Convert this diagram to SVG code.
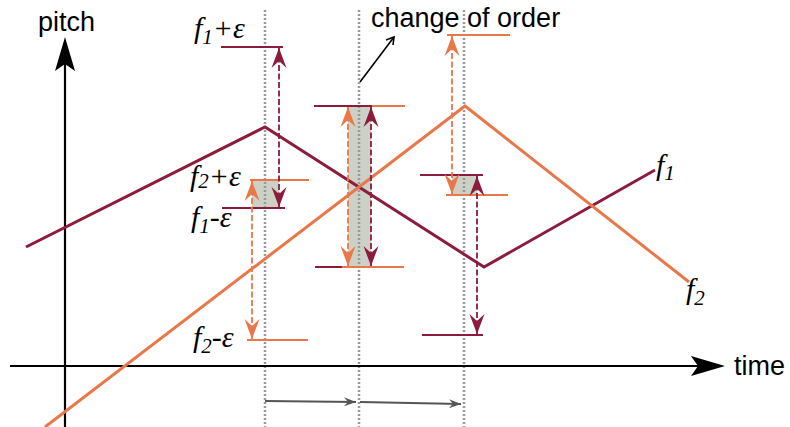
<svg xmlns="http://www.w3.org/2000/svg" width="790" height="427" viewBox="0 0 790 427">
<style>
.axis{stroke:#000;stroke-width:2.2;fill:none}
.dot{stroke:#999;stroke-width:2.5;stroke-dasharray:2 2;fill:none}
.r{stroke:#8B1C3C;fill:none}
.o{stroke:#E8784A;fill:none}
.curve{stroke-width:3}
.tick{stroke-width:2}
.darr{stroke-width:1.8;stroke-dasharray:6 2.5}
.shade{fill:#CDD1C5}
.sans{font-family:"Liberation Sans",Arial,sans-serif;font-size:27px;fill:#000}
.lab{font-family:"Liberation Serif","Times New Roman",serif;font-style:italic;font-size:30px;fill:#000}
.sub{font-size:21px}
</style>
<defs>
<marker id="hr" markerUnits="userSpaceOnUse" markerWidth="22" markerHeight="18" viewBox="-21 -9 22 18" refX="0" refY="0" orient="auto-start-reverse">
<path d="M0,0 L-20,-7.5 L-13,0 L-20,7.5 Z" fill="#8B1C3C"/>
</marker>
<marker id="ho" markerUnits="userSpaceOnUse" markerWidth="22" markerHeight="18" viewBox="-21 -9 22 18" refX="0" refY="0" orient="auto-start-reverse">
<path d="M0,0 L-20,-7.5 L-13,0 L-20,7.5 Z" fill="#E8784A"/>
</marker>
<marker id="hg" markerUnits="userSpaceOnUse" markerWidth="14" markerHeight="10" viewBox="-13 -5 14 10" refX="0" refY="0" orient="auto">
<path d="M0,0 L-12,-4.5 L-8,0 L-12,4.5 Z" fill="#555"/>
</marker>
</defs>

<g id="shading">
<rect class="shade" x="252" y="180" width="27" height="28"/>
<rect class="shade" x="348" y="106" width="23" height="161"/>
<rect class="shade" x="452" y="175" width="25" height="20"/>
</g>

<g id="guides">
<line class="dot" x1="265" y1="10" x2="265" y2="427"/>
<line class="dot" x1="359" y1="10" x2="359" y2="427"/>
<line class="dot" x1="464" y1="10" x2="464" y2="427"/>
</g>

<g id="axes">
<line class="axis" x1="65" y1="427" x2="65" y2="60"/>
<path d="M65,37 L75,71 L65,64 L55,71 Z" fill="#000"/>
<line class="axis" x1="10" y1="366" x2="705" y2="366"/>
<path d="M725,366 L691,356 L698,366 L691,376 Z" fill="#000"/>
<text class="sans" x="38" y="31">pitch</text>
<text class="sans" x="734" y="375">time</text>
</g>

<g id="f1">
<polyline class="r curve" points="26,247 265,127 484,267 655,170"/>
<text class="lab" x="656" y="175">f<tspan class="sub" dy="5">1</tspan></text>
</g>
<g id="f2">
<polyline class="o curve" points="45,427 465,106 689,282"/>
<text class="lab" x="686" y="299">f<tspan class="sub" dy="6">2</tspan></text>
</g>

<g id="bounds-left">
<line class="r tick" x1="221" y1="47" x2="283" y2="47"/>
<line class="o tick" x1="250" y1="180" x2="309" y2="180"/>
<line class="r tick" x1="222" y1="208" x2="285" y2="208"/>
<line class="o tick" x1="247" y1="340" x2="308" y2="340"/>
<text class="lab" x="194" y="38">f<tspan class="sub" dy="6">1</tspan><tspan dy="-6">+ε</tspan></text>
<text class="lab" x="190" y="186">f<tspan class="sub" dy="2">2</tspan><tspan dy="-2">+ε</tspan></text>
<text class="lab" x="191" y="227">f<tspan class="sub" dy="6">1</tspan><tspan dy="-6">-ε</tspan></text>
<text class="lab" x="193" y="347">f<tspan class="sub" dy="6">2</tspan><tspan dy="-6">-ε</tspan></text>
</g>

<g id="bounds-middle">
<line class="o tick" x1="345" y1="106" x2="405" y2="106"/>
<line class="r tick" x1="314" y1="106" x2="372" y2="106"/>
<line class="r tick" x1="315" y1="267" x2="375" y2="267"/>
<line class="o tick" x1="342" y1="267" x2="404" y2="267"/>
</g>

<g id="bounds-right">
<line class="o tick" x1="447" y1="35" x2="510" y2="35"/>
<line class="r tick" x1="420" y1="175" x2="483" y2="175"/>
<line class="o tick" x1="446" y1="195" x2="508" y2="195"/>
<line class="r tick" x1="422" y1="335" x2="483" y2="335"/>
</g>

<g id="connectors">
<line class="r darr" x1="279" y1="48" x2="279" y2="207" marker-start="url(#hr)" marker-end="url(#hr)"/>
<line class="o darr" x1="252" y1="181" x2="252" y2="339" marker-start="url(#ho)" marker-end="url(#ho)"/>
<line class="o darr" x1="348" y1="107" x2="348" y2="266" marker-start="url(#ho)" marker-end="url(#ho)"/>
<line class="r darr" x1="371" y1="107" x2="371" y2="266" marker-start="url(#hr)" marker-end="url(#hr)"/>
<line class="o darr" x1="452" y1="36" x2="452" y2="194" marker-start="url(#ho)" marker-end="url(#ho)"/>
<line class="r darr" x1="477" y1="176" x2="477" y2="334" marker-start="url(#hr)" marker-end="url(#hr)"/>
<line x1="265" y1="401" x2="356" y2="402" stroke="#555" stroke-width="1.8" marker-end="url(#hg)"/>
<line x1="360" y1="402" x2="461" y2="404" stroke="#555" stroke-width="1.8" marker-end="url(#hg)"/>
<line x1="360" y1="82" x2="394" y2="37" stroke="#000" stroke-width="1.6"/>
<polyline points="386,40 394,37 393,45" stroke="#000" stroke-width="1.6" fill="none"/>
</g>

<g id="change-label">
<text class="sans" x="371" y="27">change of order</text>
</g>
</svg>
